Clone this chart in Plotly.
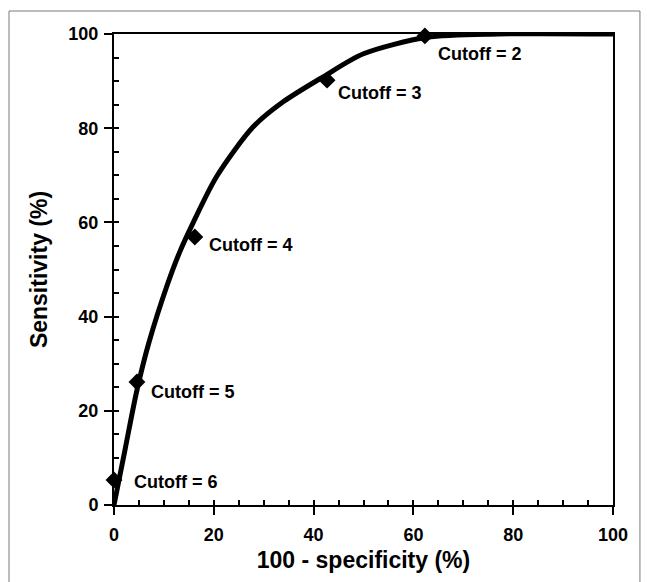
import plotly.graph_objects as go

# ROC curve (smooth fitted line)
curve_x = [0, 2.2, 4.6, 7.0, 10.6, 13.2, 15.8, 20.6, 27.9, 33.9, 41.9, 50, 62.7, 77, 100]
curve_y = [0, 11.7, 24.4, 34.5, 46.5, 53.8, 59.8, 69.8, 80.3, 85.6, 90.9, 95.8, 99.3, 100, 100]

# Observed cutoff points
point_x = [62.3, 42.7, 16.2, 4.6, 0]
point_y = [99.6, 90.2, 56.9, 26.1, 5.3]
point_labels = ["Cutoff = 2", "Cutoff = 3", "Cutoff = 4", "Cutoff = 5", "Cutoff = 6"]

x_ticks = [0, 20, 40, 60, 80, 100]
y_ticks = [0, 20, 40, 60, 80, 100]

# label offsets (px) relative to each point
label_dx = [11, 9, 12, 12, 18]
label_dy = [-18, -13, -8, -10, -2]

FONT = "Liberation Sans, Arial, Helvetica, sans-serif"

fig = go.Figure()

fig.add_trace(go.Scatter(
    x=point_x, y=point_y, mode="markers", cliponaxis=False,
    marker=dict(symbol="diamond", size=13, color="black"),
    xaxis="x", yaxis="y", hoverinfo="skip", showlegend=False,
))

fig.add_trace(go.Scatter(
    x=curve_x, y=curve_y, mode="lines",
    line=dict(color="black", width=5, shape="spline", smoothing=0.8),
    xaxis="x2", yaxis="y2", hoverinfo="skip", showlegend=False,
))

for px, py, lab, dx, dy in zip(point_x, point_y, point_labels, label_dx, label_dy):
    fig.add_annotation(
        x=px, y=py, xref="x", yref="y", text=lab, showarrow=False,
        xanchor="left", yanchor="middle", xshift=dx, yshift=dy,
        font=dict(family=FONT, size=18, color="black", weight="bold"),
    )

common = dict(range=[0, 100], showgrid=False, zeroline=False)

fig.update_layout(
    width=647, height=582,
    margin=dict(l=114, r=34, t=34, b=77),
    plot_bgcolor="white", paper_bgcolor="white",
    xaxis=dict(
        **common, tickvals=x_ticks, ticks="outside", ticklen=8, tickwidth=2,
        tickcolor="black", showline=True, linecolor="black", linewidth=2,
        mirror=True, ticklabelstandoff=4,
        tickfont=dict(family=FONT, size=18, color="black", weight="bold"),
        title=dict(text="100 - specificity (%)", standoff=8,
                   font=dict(family=FONT, size=23, color="black", weight="bold")),
    ),
    yaxis=dict(
        **common, tickvals=y_ticks, ticks="outside", ticklen=8, tickwidth=2,
        tickcolor="black", showline=True, linecolor="black", linewidth=2,
        mirror=True, ticklabelstandoff=2,
        tickfont=dict(family=FONT, size=18, color="black", weight="bold"),
        title=dict(text="Sensitivity (%)", standoff=14,
                   font=dict(family=FONT, size=23, color="black", weight="bold")),
    ),
    xaxis2=dict(
        **common, overlaying="x", anchor="y2", side="bottom", dtick=5, tick0=0,
        ticks="inside", ticklen=5, tickwidth=2, tickcolor="black",
        showticklabels=False, showline=False,
    ),
    yaxis2=dict(
        **common, overlaying="y", anchor="x2", side="left", dtick=5, tick0=0,
        ticks="inside", ticklen=5, tickwidth=2, tickcolor="black",
        showticklabels=False, showline=False,
    ),
    shapes=[dict(
        type="rect", xref="paper", yref="paper",
        x0=-0.2104, x1=1.054, y0=-0.2, y1=1.0488,
        line=dict(color="#7a7a7a", width=1), fillcolor="rgba(0,0,0,0)",
        layer="below",
    )],
)

fig.write_html("out.html")
